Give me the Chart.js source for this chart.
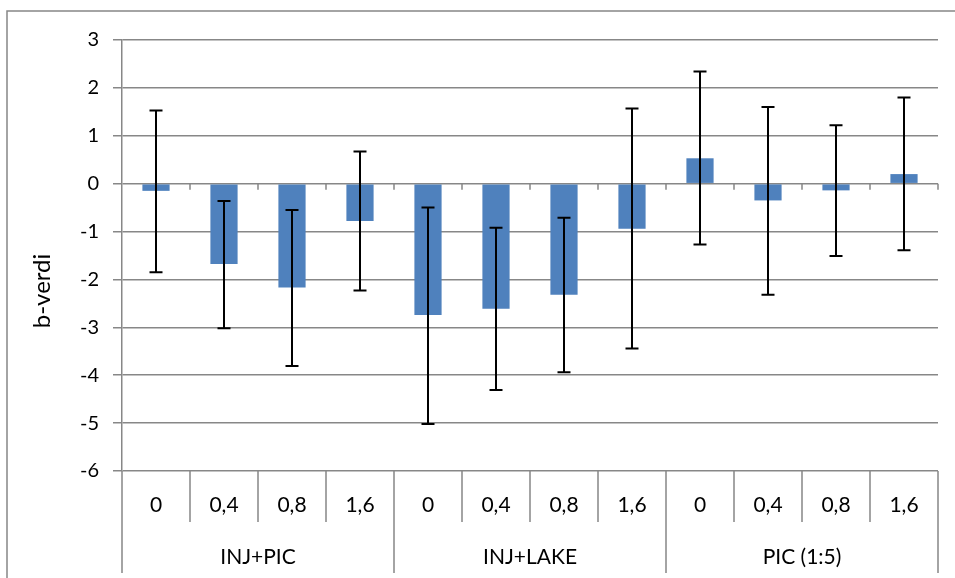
<!DOCTYPE html>
<html>
<head>
<meta charset="utf-8">
<script src="https://cdn.jsdelivr.net/npm/chart.js@4.4.1/dist/chart.umd.min.js"></script>
<style>
  html, body { margin: 0; padding: 0; background: #fff; }
  #wrap { width: 955px; height: 578px; position: relative; }
</style>
</head>
<body>
<div id="wrap"><canvas id="chart"></canvas></div>
<script>
// data
const groups = ['INJ+PIC', 'INJ+LAKE', 'PIC (1:5)'];
const doses = ['0', '0,4', '0,8', '1,6'];
const bValues = [-0.15, -1.68, -2.17, -0.78, -2.74, -2.61, -2.32, -0.94, 0.53, -0.35, -0.14, 0.20];
const errUp = [1.68, 1.32, 1.62, 1.45, 2.24, 1.69, 1.61, 2.51, 1.81, 1.95, 1.36, 1.60];
const errDown = [1.70, 1.34, 1.64, 1.45, 2.28, 1.70, 1.62, 2.50, 1.80, 1.97, 1.37, 1.59];
const yTitle = 'b-verdi';

const labels = [];
groups.forEach(g => doses.forEach(d => labels.push(d)));

const FONT = 'Lato, "Open Sans", sans-serif';
const GRID = '#878787';

// error bars, two-level category axis, frame and y title
const extras = {
  id: 'extras',
  afterDatasetsDraw(chart) {
    const { ctx, scales: { x, y } } = chart;
    ctx.save();
    ctx.strokeStyle = '#000';
    ctx.lineWidth = 2;
    bValues.forEach((v, i) => {
      const px = x.getPixelForValue(i);
      const top = y.getPixelForValue(v + errUp[i]);
      const bot = y.getPixelForValue(v - errDown[i]);
      ctx.beginPath();
      ctx.moveTo(px, top); ctx.lineTo(px, bot);
      ctx.moveTo(px - 6.5, top); ctx.lineTo(px + 6.5, top);
      ctx.moveTo(px - 6.5, bot); ctx.lineTo(px + 6.5, bot);
      ctx.stroke();
    });
    ctx.restore();
  },
  afterDraw(chart) {
    const { ctx, scales: { x, y }, chartArea } = chart;
    const step = (chartArea.right - chartArea.left) / labels.length;
    const y0 = y.getPixelForValue(0);
    ctx.save();
    ctx.strokeStyle = GRID;
    ctx.lineWidth = 1.5;
    ctx.beginPath();
    for (let i = 0; i <= labels.length; i++) {
      const bx = chartArea.left + i * step;
      // small ticks under zero line
      if (i > 0) { ctx.moveTo(bx, y0); ctx.lineTo(bx, y0 + 6); }
      // category separators in the axis area
      const isGroup = i % doses.length === 0;
      ctx.moveTo(bx, chartArea.bottom);
      ctx.lineTo(bx, chartArea.bottom + (isGroup ? 102 : 51));
    }
    ctx.stroke();

    // outer frame (cut off right and bottom)
    ctx.beginPath();
    ctx.moveTo(7, 600); ctx.lineTo(7, 11); ctx.lineTo(960, 11);
    ctx.stroke();

    ctx.fillStyle = '#000';
    ctx.font = '21px ' + FONT;
    ctx.textAlign = 'center';
    ctx.textBaseline = 'middle';
    labels.forEach((l, i) => {
      ctx.fillText(l, x.getPixelForValue(i), chartArea.bottom + 34);
    });
    groups.forEach((g, gi) => {
      const cx = chartArea.left + (gi * doses.length + doses.length / 2) * step;
      ctx.fillText(g, cx, chartArea.bottom + 86);
    });

    ctx.translate(42, 291);
    ctx.rotate(-Math.PI / 2);
    ctx.font = '24px ' + FONT;
    ctx.fillText(yTitle, 0, 0);
    ctx.restore();
  }
};

new Chart(document.getElementById('chart'), {
  type: 'bar',
  data: {
    labels: labels,
    datasets: [{
      data: bValues,
      backgroundColor: '#4F81BD',
      borderWidth: 0,
      barPercentage: 0.4,
      categoryPercentage: 1.0
    }]
  },
  options: {
    responsive: true,
    maintainAspectRatio: false,
    animation: false,
    layout: { padding: { left: 0, top: 40, right: 17, bottom: 0 } },
    plugins: { legend: { display: false }, tooltip: { enabled: false } },
    scales: {
      x: {
        ticks: { display: false },
        grid: { display: false },
        border: { display: false },
        afterFit(scale) { scale.height = 107; }
      },
      y: {
        min: -6,
        max: 3,
        ticks: { stepSize: 1, color: '#000', font: { family: FONT, size: 20 }, padding: 14 },
        grid: { color: GRID, lineWidth: 1.5, tickLength: 9 },
        border: { color: GRID, width: 1.5 },
        afterFit(scale) { scale.width = 122; }
      }
    }
  },
  plugins: [extras]
});
</script>
</body>
</html>
